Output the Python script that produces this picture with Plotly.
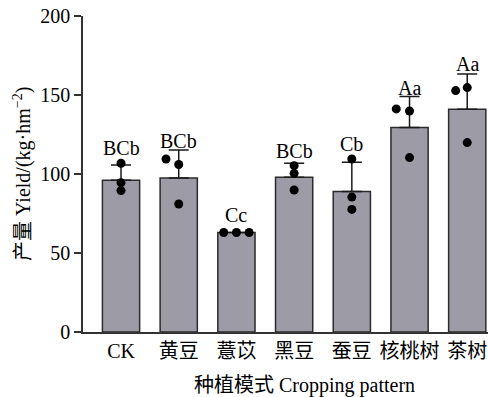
import plotly.graph_objects as go

categories = ["CK", "黄豆", "薏苡", "黑豆", "蚕豆", "核桃树", "茶树"]
means = [96, 97.5, 63, 98, 89, 129.5, 141]
err_plus = [9.7, 17.7, 0, 8.8, 18.4, 19.5, 22.3]
letters = ["BCb", "BCb", "Cc", "BCb", "Cb", "Aa", "Aa"]
letter_y = [117.4, 121.5, 74.9, 115.0, 119.6, 154.8, 170.1]
reps = [
    [106.8, 94.5, 89.5],
    [109.5, 106, 81],
    [63, 63, 63],
    [105.3, 100.4, 89.9],
    [109.5, 85.4, 77.6],
    [141.2, 139.9, 110.4],
    [152.8, 154.7, 119.9],
]
dot_offsets = [
    [0, 0, 0],
    [-0.22, 0, 0],
    [-0.22, 0, 0.22],
    [0, 0, 0],
    [0, 0, 0],
    [-0.23, 0, 0],
    [-0.2, 0, 0],
]
y_ticks = [0, 50, 100, 150, 200]

FONT = "Liberation Serif, Noto Sans CJK SC, serif"
FS = 20
xs = list(range(len(categories)))

fig = go.Figure()
fig.add_trace(go.Bar(
    x=xs, y=means, width=0.645,
    marker=dict(color="#9d9ba6", line=dict(color="#2b2b2b", width=1.5)),
    error_y=dict(type="data", array=err_plus, arrayminus=[0]*7, symmetric=False,
                 color="#1a1a1a", thickness=1.5, width=10),
    showlegend=False,
))

dx, dy = [], []
for i, (vals, offs) in enumerate(zip(reps, dot_offsets)):
    for v, o in zip(vals, offs):
        dx.append(i + o)
        dy.append(v)
fig.add_trace(go.Scatter(
    x=dx, y=dy, mode="markers",
    marker=dict(color="black", size=9),
    showlegend=False, cliponaxis=False,
))

for i, (ly, t) in enumerate(zip(letter_y, letters)):
    fig.add_annotation(x=i, y=ly, text=t, showarrow=False,
                       yanchor="middle", yshift=-1,
                       font=dict(family=FONT, size=FS, color="black"))

fig.add_annotation(xref="paper", yref="paper", x=0, y=0.5, xshift=-61,
                   text="产量 Yield/(kg·hm<sup>−2</sup>)", textangle=-90,
                   showarrow=False, xanchor="center", yanchor="middle",
                   font=dict(family=FONT, size=FS, color="black"))
fig.add_annotation(xref="paper", yref="paper", x=0.548, y=0, yshift=-53,
                   text="种植模式 Cropping pattern", showarrow=False,
                   xanchor="center", yanchor="middle",
                   font=dict(family=FONT, size=FS, color="black"))

fig.update_layout(
    width=488, height=397,
    margin=dict(l=83, r=0, t=16, b=65),
    plot_bgcolor="white", paper_bgcolor="white",
    font=dict(family=FONT, size=FS, color="black"),
    bargap=0.36,
)
fig.update_xaxes(
    range=[-0.659, 6.36], tickmode="array", tickvals=xs, ticktext=categories,
    showline=True, linecolor="#333", linewidth=1.5, ticks="", showgrid=False,
    zeroline=False, tickfont=dict(family=FONT, size=FS, color="black"),
)
fig.update_yaxes(
    range=[0, 200], tickvals=y_ticks, showline=True, linecolor="#333", linewidth=1.5,
    ticks="outside", ticklen=7, tickwidth=1.5, tickcolor="#333", showgrid=False,
    zeroline=False, tickfont=dict(family=FONT, size=FS, color="black"),
)

fig.write_html("out.html")
